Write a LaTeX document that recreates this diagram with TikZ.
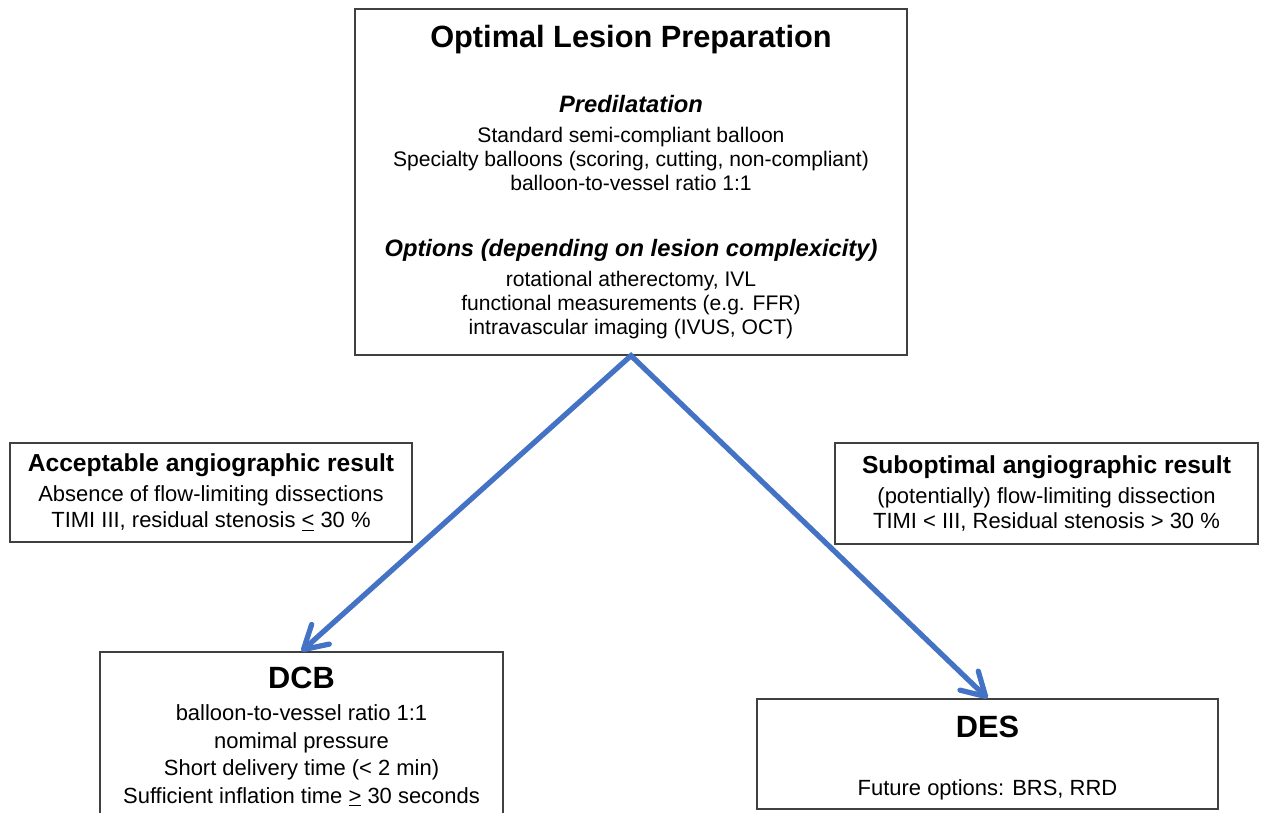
\documentclass[tikz,border=0pt]{standalone}
\usepackage{fontspec}
\setmainfont{Liberation Sans}
\usetikzlibrary{arrows.meta}
\definecolor{flowblue}{HTML}{4472C4}
\definecolor{boxgray}{HTML}{404040}
\newcommand{\titlefont}{\fontsize{17.5}{13.66}\selectfont\bfseries}
\newcommand{\headfont}{\fontsize{13.5}{13.66}\selectfont\bfseries\itshape}
\newcommand{\sidefont}{\fontsize{14}{13.66}\selectfont\bfseries}
\tikzset{
  box/.style={draw=boxgray, line width=0.8pt, align=center, inner sep=0pt,
    font=\fontsize{12.5}{13.66}\selectfont},
  flow/.style={draw=flowblue, line width=3pt, line join=miter,
    {Straight Barb[length=13pt,width=15pt,round]}-{Straight Barb[length=13pt,width=15pt,round]}},
}
\begin{document}
\begin{tikzpicture}[x=0.02cm,y=-0.02cm]
  \useasboundingbox (0,0) rectangle (1264,813);
  % lesion preparation
  \node[box, font=\fontsize{12}{13.66}\selectfont, minimum width=11.04cm, minimum height=6.92cm] (prep) at (631,182)
    {{\titlefont Optimal Lesion Preparation}\\[23.3pt]
     {\headfont Predilatation}\\[3.4pt]
     Standard semi-compliant balloon\\
     Specialty balloons (scoring, cutting, non-compliant)\\
     balloon-to-vessel ratio 1:1\\[23.8pt]
     {\headfont Options (depending on lesion complexicity)}\\[3.4pt]
     rotational atherectomy, IVL\\
     functional measurements (e.g. FFR)\\
     intravascular imaging (IVUS, OCT)};
  % angiographic results
  \node[box, minimum width=8.04cm, minimum height=1.98cm] (accept) at (211,492.5)
    {{\sidefont Acceptable angiographic result}\\[3.4pt]
     Absence of flow-limiting dissections\\[1.1pt]
     TIMI III, residual stenosis \underline{<} 30 \%};
  \node[box, minimum width=8.46cm, minimum height=2.02cm] (subopt) at (1046.5,493.5)
    {{\sidefont Suboptimal angiographic result}\\[3.4pt]
     (potentially) flow-limiting dissection\\[1.1pt]
     TIMI < III, Residual stenosis > 30 \%};
  % treatment
  \node[box, minimum width=8.06cm, minimum height=3.4cm] (dcb) at (301.5,737)
    {{\titlefont DCB}\\[4.5pt]
     balloon-to-vessel ratio 1:1\\[2pt]
     nomimal pressure\\[2pt]
     Short delivery time (< 2 min)\\[2pt]
     Sufficient inflation time \underline{>} 30 seconds};
  \node[box, minimum width=9.22cm, minimum height=2.2cm] (des) at (987.5,754)
    {{\titlefont\rule{0pt}{17pt}DES}\\[19.3pt]
     Future options: BRS, RRD};
  \draw[flow] (dcb.north) -- (prep.south) -- (des.north);
\end{tikzpicture}
\end{document}
